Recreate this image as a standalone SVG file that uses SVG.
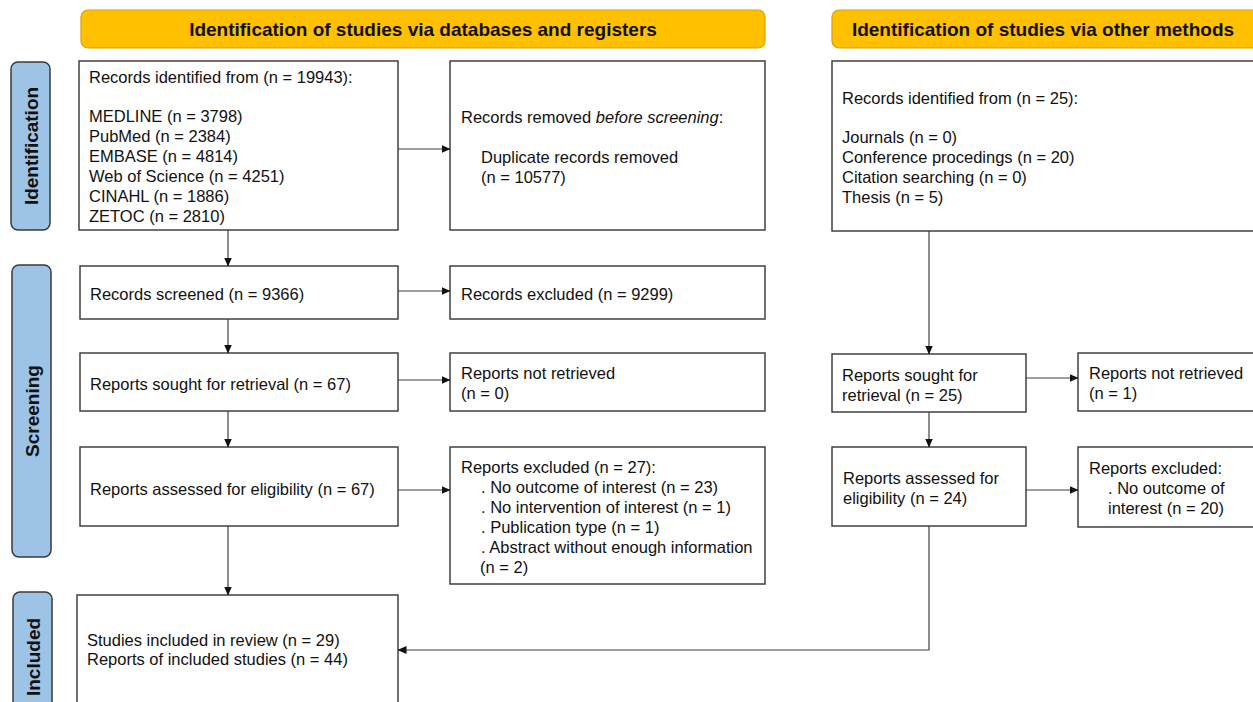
<svg xmlns="http://www.w3.org/2000/svg" width="1253" height="702" viewBox="0 0 1253 702">
<style>
.box{fill:#fff;stroke:#404040;stroke-width:1.5}
.banner{fill:#FFC000;stroke:#D9A000;stroke-width:1.2}
.side{fill:#9DC3E6;stroke:#3A3A3A;stroke-width:1.5}
.t{font-family:"Liberation Sans",Arial,sans-serif;font-size:16.5px;fill:#111}
.bt{font-family:"Liberation Sans",Arial,sans-serif;font-size:19px;font-weight:bold;fill:#111}
.c{fill:none;stroke:#404040;stroke-width:1.2}
</style>
<defs>
<marker id="ah" markerWidth="9" markerHeight="8" refX="8.5" refY="4" orient="auto" markerUnits="userSpaceOnUse">
<path d="M0,0 L9,4 L0,8 z" fill="#111"/>
</marker>
</defs>
<rect width="1253" height="702" fill="#fff"/>

<g id="banner-db"><rect class="banner" x="81" y="10" width="684" height="38" rx="7"/><text class="bt" x="423" y="36" text-anchor="middle">Identification of studies via databases and registers</text></g>
<g id="banner-other"><rect class="banner" x="832" y="10" width="430" height="38" rx="7"/><text class="bt" x="1043" y="36" text-anchor="middle">Identification of studies via other methods</text></g>

<g id="side-identification"><rect class="side" x="11" y="62" width="39" height="168" rx="7"/><text class="bt" transform="translate(38,146) rotate(-90)" text-anchor="middle">Identification</text></g>
<g id="side-screening"><rect class="side" x="12" y="265" width="39" height="292" rx="7"/><text class="bt" transform="translate(39,411) rotate(-90)" text-anchor="middle">Screening</text></g>
<g id="side-included"><rect class="side" x="13" y="592" width="39" height="120" rx="7"/><text class="bt" transform="translate(40,657) rotate(-90)" text-anchor="middle">Included</text></g>

<g id="records-identified"><rect class="box" x="79" y="61" width="319" height="169"/>
<text class="t" x="89" y="83">Records identified from (n = 19943):</text>
<text class="t" x="89" y="122">MEDLINE (n = 3798)</text>
<text class="t" x="89" y="142">PubMed (n = 2384)</text>
<text class="t" x="89" y="162">EMBASE (n = 4814)</text>
<text class="t" x="89" y="182">Web of Science (n = 4251)</text>
<text class="t" x="89" y="202">CINAHL (n = 1886)</text>
<text class="t" x="89" y="222">ZETOC (n = 2810)</text></g>

<g id="records-removed"><rect class="box" x="450" y="61" width="315" height="169"/>
<text class="t" x="461" y="123">Records removed <tspan font-style="italic">before screening</tspan>:</text>
<text class="t" x="481" y="163">Duplicate records removed</text>
<text class="t" x="481" y="183">(n = 10577)</text></g>

<g id="other-identified"><rect class="box" x="832" y="61" width="430" height="170"/>
<text class="t" x="842" y="104">Records identified from (n = 25):</text>
<text class="t" x="842" y="143">Journals (n = 0)</text>
<text class="t" x="842" y="163">Conference procedings (n = 20)</text>
<text class="t" x="842" y="183">Citation searching (n = 0)</text>
<text class="t" x="842" y="203">Thesis (n = 5)</text></g>

<g id="records-screened"><rect class="box" x="80" y="266" width="318" height="53"/>
<text class="t" x="90" y="300">Records screened (n = 9366)</text></g>

<g id="records-excluded"><rect class="box" x="450" y="266" width="315" height="53"/>
<text class="t" x="461" y="300">Records excluded (n = 9299)</text></g>

<g id="reports-sought"><rect class="box" x="80" y="353" width="318" height="58"/>
<text class="t" x="90" y="390">Reports sought for retrieval (n = 67)</text></g>

<g id="reports-not-retrieved"><rect class="box" x="450" y="353" width="315" height="58"/>
<text class="t" x="461" y="379">Reports not retrieved</text>
<text class="t" x="461" y="399">(n = 0)</text></g>

<g id="reports-assessed"><rect class="box" x="80" y="447" width="318" height="79"/>
<text class="t" x="90" y="495">Reports assessed for eligibility (n = 67)</text></g>

<g id="reports-excluded"><rect class="box" x="450" y="447" width="315" height="137"/>
<text class="t" x="461" y="473">Reports excluded (n = 27):</text>
<text class="t" x="481" y="493">. No outcome of interest (n = 23)</text>
<text class="t" x="481" y="513">. No intervention of interest (n = 1)</text>
<text class="t" x="481" y="533">. Publication type (n = 1)</text>
<text class="t" x="481" y="553">. Abstract without enough information</text>
<text class="t" x="480" y="573">(n = 2)</text></g>

<g id="other-sought"><rect class="box" x="832" y="354" width="194" height="58"/>
<text class="t" x="842" y="381">Reports sought for</text>
<text class="t" x="842" y="401">retrieval (n = 25)</text></g>

<g id="other-not-retrieved"><rect class="box" x="1078" y="353" width="190" height="58"/>
<text class="t" x="1089" y="379">Reports not retrieved</text>
<text class="t" x="1089" y="399">(n = 1)</text></g>

<g id="other-assessed"><rect class="box" x="832" y="447" width="194" height="79"/>
<text class="t" x="843" y="484">Reports assessed for</text>
<text class="t" x="843" y="504">eligibility (n = 24)</text></g>

<g id="other-excluded"><rect class="box" x="1078" y="447" width="190" height="80"/>
<text class="t" x="1089" y="474">Reports excluded:</text>
<text class="t" x="1108" y="494">. No outcome of</text>
<text class="t" x="1108" y="514">interest (n = 20)</text></g>

<g id="included"><rect class="box" x="77" y="595" width="321" height="120"/>
<text class="t" x="87" y="646">Studies included in review (n = 29)</text>
<text class="t" x="87" y="665">Reports of included studies (n = 44)</text></g>

<g id="connectors">
<line class="c" x1="398" y1="149" x2="450" y2="149" marker-end="url(#ah)"/>
<line class="c" x1="228" y1="230" x2="228" y2="266" marker-end="url(#ah)"/>
<line class="c" x1="398" y1="291" x2="450" y2="291" marker-end="url(#ah)"/>
<line class="c" x1="228" y1="319" x2="228" y2="353" marker-end="url(#ah)"/>
<line class="c" x1="398" y1="380" x2="450" y2="380" marker-end="url(#ah)"/>
<line class="c" x1="228" y1="411" x2="228" y2="447" marker-end="url(#ah)"/>
<line class="c" x1="398" y1="490" x2="450" y2="490" marker-end="url(#ah)"/>
<line class="c" x1="228" y1="526" x2="228" y2="595" marker-end="url(#ah)"/>
<line class="c" x1="929" y1="231" x2="929" y2="354" marker-end="url(#ah)"/>
<line class="c" x1="1026" y1="378" x2="1078" y2="378" marker-end="url(#ah)"/>
<line class="c" x1="929" y1="412" x2="929" y2="447" marker-end="url(#ah)"/>
<line class="c" x1="1026" y1="490" x2="1078" y2="490" marker-end="url(#ah)"/>
<polyline class="c" points="929,526 929,650 398,650" marker-end="url(#ah)"/>
</g>
</svg>
